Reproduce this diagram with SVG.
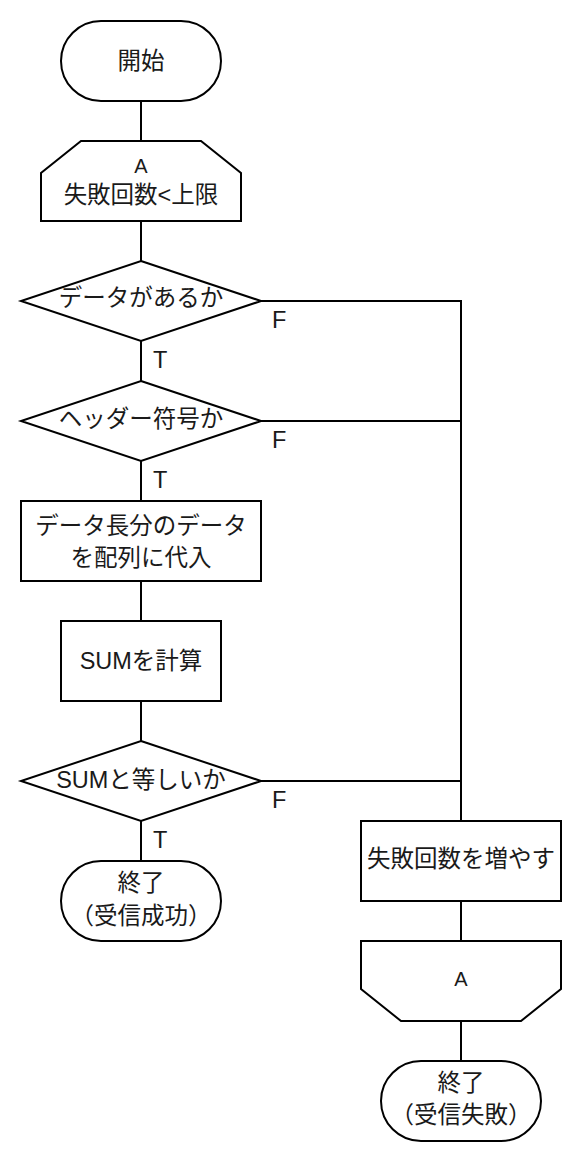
<svg xmlns="http://www.w3.org/2000/svg" width="582" height="1164" viewBox="0 0 582 1164">
<style>
.s{fill:#fff;stroke:#000;stroke-width:2}
.c{fill:none;stroke:#000;stroke-width:2}
text{font-family:"Liberation Sans","Noto Sans CJK JP",sans-serif;font-size:23.5px;fill:#1a1a1a}
.m{text-anchor:middle}
.a{font-size:20px}
</style>
<rect width="582" height="1164" fill="#fff"/>
<g id="connectors">
<path class="c" d="M141 101V141M141 221V261M141 341V381M141 461V501M141 581V621M141 701V741M141 821V861"/>
<path class="c" d="M261 301H461V821M261 421H461M261 781H461"/>
<path class="c" d="M461 901V941M461 1021V1061"/>
<text x="272" y="327.5">F</text>
<text x="272" y="447.5">F</text>
<text x="272" y="807.5">F</text>
<text x="153" y="367.5">T</text>
<text x="153" y="487.5">T</text>
<text x="153" y="847.5">T</text>
</g>
<g id="start">
<rect class="s" x="61" y="21" width="160" height="80" rx="40" ry="40"/>
<text class="m" x="141" y="68.5">開始</text>
</g>
<g id="loopStart">
<polygon class="s" points="81,141 201,141 241,173 241,221 41,221 41,173"/>
<text class="m a" x="141" y="172.5">A</text>
<text class="m" x="141" y="202.5">失敗回数&lt;上限</text>
</g>
<g id="dec1">
<polygon class="s" points="141,261 261,301 141,341 21,301"/>
<text class="m" x="141" y="306">データがあるか</text>
</g>
<g id="dec2">
<polygon class="s" points="141,381 261,421 141,461 21,421"/>
<text class="m" x="141" y="426.5">ヘッダー符号か</text>
</g>
<g id="assign">
<rect class="s" x="21" y="501" width="240" height="80"/>
<text class="m" x="141" y="533.5">データ長分のデータ</text>
<text class="m" x="141" y="566">を配列に代入</text>
</g>
<g id="sum">
<rect class="s" x="61" y="621" width="160" height="80"/>
<text class="m" x="141" y="668.5">SUMを計算</text>
</g>
<g id="dec3">
<polygon class="s" points="141,741 261,781 141,821 21,781"/>
<text class="m" x="141" y="788">SUMと等しいか</text>
</g>
<g id="endOk">
<rect class="s" x="61" y="861" width="160" height="80" rx="40" ry="40"/>
<text class="m" x="141" y="890.5">終了</text>
<text class="m" x="141" y="923.5">（受信成功）</text>
</g>
<g id="incr">
<rect class="s" x="361" y="821" width="200" height="80"/>
<text class="m" x="461" y="867">失敗回数を増やす</text>
</g>
<g id="loopEnd">
<polygon class="s" points="361,941 561,941 561,989 521,1021 401,1021 361,989"/>
<text class="m a" x="461" y="986">A</text>
</g>
<g id="endFail">
<rect class="s" x="381" y="1061" width="160" height="80" rx="40" ry="40"/>
<text class="m" x="461" y="1091">終了</text>
<text class="m" x="461" y="1123">（受信失敗）</text>
</g>
</svg>
